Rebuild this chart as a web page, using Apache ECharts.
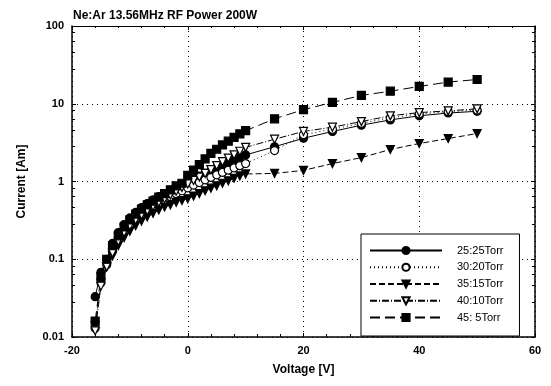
<!DOCTYPE html>
<html>
<head>
<meta charset="utf-8">
<script src="https://cdn.jsdelivr.net/npm/echarts@6/dist/echarts.min.js"></script>
<style>
  html, body { margin: 0; padding: 0; background: #fff; }
  #chart { width: 551px; height: 386px; }
</style>
</head>
<body>
<div id="chart"></div>
<script>
// voltages: dense sweep then coarse sweep
var voltsDense = [-16, -15, -14, -13, -12, -11, -10, -9, -8, -7, -6, -5, -4, -3, -2, -1, 0, 1, 2, 3, 4, 5, 6, 7, 8, 9, 10];
var voltsCoarse = [15, 20, 25, 30, 35, 40, 45, 50];

var names = ['25:25Torr', '30:20Torr', '35:15Torr', '40:10Torr', '45: 5Torr'];

// current [A]
var cur25 = [0.033, 0.068, 0.10, 0.16, 0.22, 0.28, 0.34, 0.40, 0.46, 0.52, 0.58, 0.64, 0.70, 0.77, 0.84, 0.92, 1.0, 1.08, 1.17, 1.27, 1.38, 1.5, 1.62, 1.75, 1.9, 2.05, 2.2,
             2.8, 3.6, 4.4, 5.3, 6.2, 7.0, 7.6, 8.0];
var cur30 = [0.013, 0.05, 0.085, 0.13, 0.18, 0.23, 0.28, 0.33, 0.38, 0.43, 0.48, 0.53, 0.58, 0.64, 0.70, 0.76, 0.83, 0.90, 0.97, 1.05, 1.13, 1.22, 1.31, 1.4, 1.5, 1.6, 1.7,
             2.5, 4.0, 4.7, 5.6, 6.6, 7.4, 7.9, 8.3];
var cur35 = [0.014, 0.05, 0.08, 0.11, 0.15, 0.19, 0.23, 0.27, 0.31, 0.35, 0.39, 0.43, 0.47, 0.5, 0.54, 0.57, 0.6, 0.65, 0.7, 0.76, 0.82, 0.88, 0.95, 1.02, 1.1, 1.18, 1.25,
             1.27, 1.39, 1.7, 2.03, 2.58, 3.08, 3.57, 4.14];
var cur40 = [0.012, 0.045, 0.08, 0.12, 0.17, 0.22, 0.27, 0.32, 0.37, 0.42, 0.48, 0.54, 0.60, 0.67, 0.75, 0.84, 0.93, 1.03, 1.14, 1.27, 1.42, 1.6, 1.8, 2.0, 2.2, 2.45, 2.75,
             3.5, 4.4, 5.0, 5.9, 7.0, 7.7, 8.1, 8.6];
var cur45 = [0.016, 0.06, 0.10, 0.15, 0.20, 0.26, 0.32, 0.38, 0.44, 0.50, 0.56, 0.63, 0.70, 0.78, 0.88, 0.95, 1.2, 1.4, 1.65, 1.95, 2.3, 2.6, 2.95, 3.3, 3.7, 4.1, 4.5,
             6.4, 8.4, 10.4, 12.8, 14.5, 16.7, 19.0, 20.5];

var xTicks = [-20, 0, 20, 40, 60];
var yTicks = [0.01, 0.1, 1, 10, 100];

function pairs(vals) {
  var v = voltsDense.concat(voltsCoarse)
  var out = []
  v.forEach(function (x, i) { out.push([x, vals[i]]) })
  return out
}

var font = 'Liberation Sans'
var chart = echarts.init(document.getElementById('chart'))

function mkSeries(name, vals, symbol, rotate, filled, dash) {
  return {
    name: name,
    type: 'line',
    data: pairs(vals),
    symbol: symbol,
    symbolSize: 8,
    symbolRotate: rotate,
    showSymbol: true,
    animation: false,
    itemStyle: { color: filled ? '#000' : '#fff', borderColor: '#000', borderWidth: 1.2 },
    lineStyle: { color: '#000', width: 1, type: dash }
  }
}

var gridLine = { show: true, lineStyle: { color: '#000', type: [1, 4], width: 1 } }

chart.setOption({
  backgroundColor: '#fff',
  animation: false,
  title: {
    text: 'Ne:Ar 13.56MHz RF Power 200W',
    left: 68, top: 5,
    textStyle: { fontFamily: font, fontSize: 12, fontWeight: 'bold', color: '#000' }
  },
  grid: { left: 72, right: 16, top: 26, bottom: 49 },
  legend: {
    orient: 'vertical',
    left: 361, top: 234,
    padding: [11, 16, 13, 8],
    itemGap: 5.75,
    itemWidth: 72,
    itemHeight: 9,
    backgroundColor: '#fff',
    borderColor: '#000',
    borderWidth: 1,
    data: names,
    textStyle: { fontFamily: font, fontSize: 11, color: '#000', padding: [0, 0, 0, 10] }
  },
  xAxis: [{
    type: 'value', min: -20, max: 60, interval: 20,
    name: 'Voltage [V]', nameLocation: 'middle', nameGap: 27,
    nameTextStyle: { fontFamily: font, fontSize: 12, fontWeight: 'bold', color: '#000' },
    axisLine: { onZero: false, lineStyle: { color: '#000', width: 1.5 } },
    axisTick: { inside: true, length: 4, lineStyle: { color: '#000' } },
    minorTick: { show: true, splitNumber: 5, length: 3, lineStyle: { color: '#000' } },
    axisLabel: { fontFamily: font, fontSize: 11, fontWeight: 'bold', color: '#000', margin: 8,
      formatter: function (v) { return xTicks.indexOf(v) >= 0 ? String(v) : '' } },
    splitLine: gridLine
  }, {
    type: 'value', min: -20, max: 60, interval: 20, position: 'top',
    axisLine: { show: true, onZero: false, lineStyle: { color: '#000', width: 1 } },
    axisTick: { inside: true, length: 4, lineStyle: { color: '#000' } },
    minorTick: { show: true, splitNumber: 5, length: 2, lineStyle: { color: '#000' } },
    axisLabel: { show: false },
    splitLine: { show: false }
  }],
  yAxis: [{
    type: 'log', logBase: 10, min: 0.01, max: 100,
    name: 'Current [Am]', nameLocation: 'middle', nameGap: 44,
    nameTextStyle: { fontFamily: font, fontSize: 12, fontWeight: 'bold', color: '#000' },
    axisLine: { show: true, onZero: false, lineStyle: { color: '#000', width: 1.5 } },
    axisTick: { show: true, inside: true, length: 4, lineStyle: { color: '#000' } },
    minorTick: { show: true, splitNumber: 5, length: 3, lineStyle: { color: '#000' } },
    axisLabel: { fontFamily: font, fontSize: 11, fontWeight: 'bold', color: '#000', margin: 8,
      formatter: function (v) {
        for (var i = 0; i < yTicks.length; i++) {
          if (Math.abs(v - yTicks[i]) < yTicks[i] * 1e-6) return String(yTicks[i])
        }
        return ''
      } },
    splitLine: gridLine
  }, {
    type: 'log', logBase: 10, min: 0.01, max: 100, position: 'right',
    axisLine: { show: true, onZero: false, lineStyle: { color: '#000', width: 1.5 } },
    axisTick: { show: true, inside: true, length: 4, lineStyle: { color: '#000' } },
    minorTick: { show: true, splitNumber: 5, length: 3, lineStyle: { color: '#000' } },
    axisLabel: { show: false },
    splitLine: { show: false }
  }],
  series: [
    mkSeries(names[0], cur25, 'circle', 0, true, 'solid'),
    mkSeries(names[1], cur30, 'circle', 0, false, [1, 3]),
    mkSeries(names[2], cur35, 'triangle', 180, true, [6, 3]),
    mkSeries(names[3], cur40, 'triangle', 180, false, [7, 2, 1, 2]),
    mkSeries(names[4], cur45, 'rect', 0, true, [10, 5])
  ]
})
</script>
</body>
</html>
